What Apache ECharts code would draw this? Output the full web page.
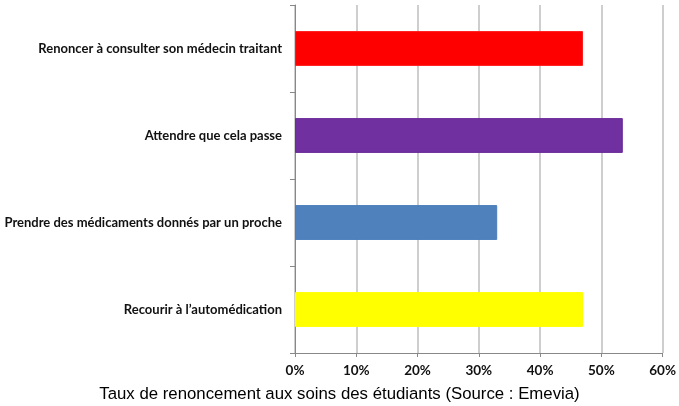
<!DOCTYPE html>
<html>
<head>
<meta charset="utf-8">
<script src="https://cdn.jsdelivr.net/npm/echarts@6/dist/echarts.min.js"></script>
<style>
  html, body { margin: 0; padding: 0; background: #fff; }
  #chart { width: 679px; height: 406px; }
</style>
</head>
<body>
<div id="chart"></div>
<script>
var categories = [
  "Renoncer à consulter son médecin traitant",
  "Attendre que cela passe",
  "Prendre des médicaments donnés par un proche",
  "Recourir à l\u2019automédication"
];
var values = [47, 53.5, 33, 47];
var barColors = ["#FF0000", "#7030A0", "#4F81BD", "#FFFF00"];
var borderColors = ["#FF1a1a", "#6a2c98", "#4a7dba", "#FFFF00"];
var title = "Taux de renoncement aux soins des étudiants (Source : Emevia)";

var chart = echarts.init(document.getElementById("chart"), null, { renderer: "canvas" });

var option = {
  animation: false,
  backgroundColor: "#ffffff",
  title: {
    text: title,
    left: "center",
    bottom: -2,
    textStyle: { fontFamily: "Liberation Sans", fontSize: 16.8, fontWeight: "normal", color: "#000" }
  },
  grid: { left: 295, right: 16, top: 5, bottom: 53 },
  xAxis: {
    type: "value",
    min: 0,
    max: 60,
    interval: 10,
    axisLine: { show: true, lineStyle: { color: "#888", width: 1 } },
    axisTick: { show: true, length: 4, lineStyle: { color: "#888" } },
    splitLine: { show: true, lineStyle: { color: "#BEBEBE", width: 1.5 } },
    axisLabel: {
      formatter: "{value}%",
      fontFamily: "Lato",
      fontWeight: "bold",
      fontSize: 13.5,
      color: "#111",
      margin: 11
    }
  },
  yAxis: {
    type: "category",
    data: categories,
    inverse: true,
    axisLine: { show: true, lineStyle: { color: "#888", width: 1 } },
    axisTick: { show: true, length: 5, lineStyle: { color: "#888" } },
    axisLabel: {
      fontFamily: "Lato",
      fontWeight: "bold",
      fontSize: 13,
      color: "#111",
      margin: 13
    }
  },
  series: [{
    type: "bar",
    barWidth: "40%",
    data: values.map(function (v, i) {
      return {
        value: v,
        itemStyle: { color: barColors[i], borderColor: borderColors[i], borderWidth: 1 }
      };
    })
  }]
};

chart.setOption(option);
</script>
</body>
</html>
